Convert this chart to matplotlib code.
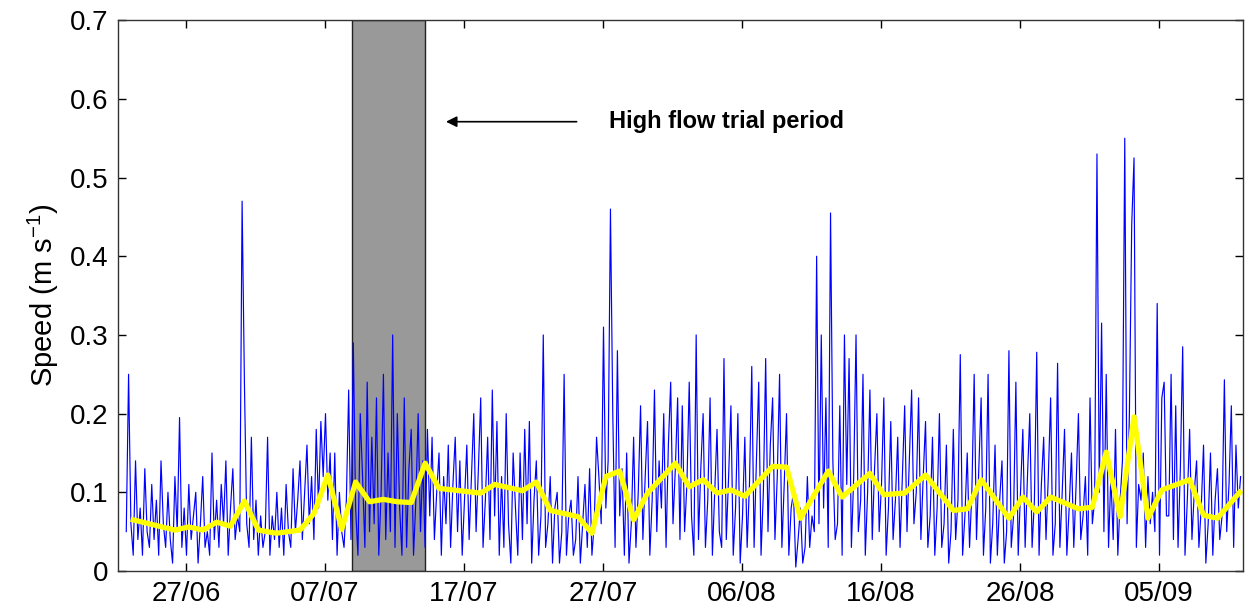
import numpy as np
import matplotlib
matplotlib.use("Agg")
import matplotlib.pyplot as plt

plt.rcParams['font.family'] = ['Liberation Sans', 'DejaVu Sans']
plt.rcParams['mathtext.default'] = 'regular'

# Day numbers are counted from 27/06 (day 0)
tick_days = [0, 10, 20, 30, 40, 50, 60, 70]
tick_labels = ['27/06', '07/07', '17/07', '27/07', '06/08', '16/08', '26/08', '05/09']

# High-frequency speed record (m/s), sampled every 4 h from day -4.3
speed_t0 = -4.3
speed_dt = 1.0 / 6.0
speed = [
    0.05, 0.25, 0.06, 0.02, 0.14, 0.04,    0.08, 0.02, 0.13, 0.05, 0.03, 0.11,
    0.04, 0.09, 0.02, 0.14, 0.06, 0.03,    0.10, 0.04, 0.01, 0.12, 0.05, 0.195,
    0.03, 0.08, 0.02, 0.11, 0.04, 0.07,    0.10, 0.01, 0.06, 0.12, 0.03, 0.05,
    0.02, 0.15, 0.04, 0.09, 0.03, 0.11,    0.06, 0.14, 0.02, 0.08, 0.13, 0.04,
    0.07, 0.05, 0.47, 0.24, 0.06, 0.03,    0.17, 0.04, 0.09, 0.02, 0.07, 0.03,
    0.05, 0.17, 0.02, 0.07, 0.04, 0.10,    0.03, 0.08, 0.02, 0.11, 0.05, 0.03,
    0.13, 0.05, 0.09, 0.14, 0.04, 0.10,    0.16, 0.06, 0.12, 0.04, 0.18, 0.08,
    0.19, 0.12, 0.20, 0.09, 0.15, 0.04,    0.15, 0.02, 0.10, 0.05, 0.03, 0.09,
    0.23, 0.04, 0.29, 0.08, 0.02, 0.20,    0.12, 0.03, 0.24, 0.05, 0.17, 0.06,
    0.22, 0.02, 0.10, 0.25, 0.04, 0.15,    0.05, 0.30, 0.03, 0.20, 0.08, 0.02,
    0.22, 0.03, 0.13, 0.18, 0.02, 0.09,    0.20, 0.05, 0.14, 0.03, 0.18, 0.07,
    0.17, 0.04, 0.10, 0.15, 0.02, 0.12,    0.06, 0.16, 0.03, 0.11, 0.17, 0.05,
    0.14, 0.02, 0.09, 0.16, 0.04, 0.12,    0.20, 0.05, 0.13, 0.22, 0.03, 0.09,
    0.17, 0.04, 0.23, 0.07, 0.19, 0.02,    0.12, 0.03, 0.20, 0.06, 0.01, 0.15,
    0.08, 0.02, 0.15, 0.04, 0.18, 0.06,    0.19, 0.01, 0.09, 0.14, 0.02, 0.07,
    0.30, 0.03, 0.06, 0.12, 0.01, 0.08,    0.10, 0.01, 0.05, 0.25, 0.02, 0.07,
    0.09, 0.02, 0.04, 0.12, 0.01, 0.06,    0.11, 0.03, 0.13, 0.02, 0.06, 0.17,
    0.12, 0.06, 0.31, 0.08, 0.14, 0.46,    0.20, 0.03, 0.28, 0.07, 0.13, 0.02,
    0.15, 0.01, 0.06, 0.17, 0.03, 0.10,    0.21, 0.04, 0.12, 0.19, 0.02, 0.09,
    0.23, 0.05, 0.14, 0.08, 0.20, 0.03,    0.16, 0.24, 0.06, 0.13, 0.22, 0.04,
    0.21, 0.05, 0.11, 0.24, 0.07, 0.02,    0.30, 0.04, 0.13, 0.20, 0.03, 0.09,
    0.22, 0.02, 0.10, 0.18, 0.05, 0.03,    0.27, 0.04, 0.12, 0.21, 0.02, 0.08,
    0.20, 0.01, 0.07, 0.17, 0.03, 0.11,    0.26, 0.03, 0.14, 0.24, 0.02, 0.10,
    0.27, 0.05, 0.16, 0.22, 0.04, 0.12,    0.25, 0.03, 0.11, 0.20, 0.02, 0.08,
    0.10, 0.005, 0.04, 0.08, 0.01, 0.03,   0.12, 0.03, 0.07, 0.05, 0.40, 0.06,
    0.30, 0.08, 0.22, 0.03, 0.455, 0.14,   0.04, 0.06, 0.21, 0.02, 0.30, 0.11,
    0.27, 0.03, 0.12, 0.30, 0.05, 0.09,    0.25, 0.02, 0.10, 0.23, 0.04, 0.13,
    0.20, 0.05, 0.11, 0.22, 0.02, 0.08,    0.19, 0.04, 0.09, 0.17, 0.03, 0.12,
    0.21, 0.05, 0.14, 0.23, 0.06, 0.10,    0.22, 0.04, 0.12, 0.19, 0.03, 0.07,
    0.17, 0.02, 0.08, 0.20, 0.03, 0.06,    0.16, 0.01, 0.05, 0.18, 0.04, 0.09,
    0.275, 0.02, 0.07, 0.15, 0.03, 0.10,   0.25, 0.04, 0.13, 0.22, 0.02, 0.08,
    0.25, 0.01, 0.06, 0.16, 0.02, 0.09,    0.14, 0.01, 0.05, 0.28, 0.03, 0.07,
    0.24, 0.02, 0.10, 0.18, 0.03, 0.12,    0.20, 0.03, 0.09, 0.278, 0.02, 0.11,
    0.17, 0.04, 0.12, 0.22, 0.02, 0.06,    0.264, 0.03, 0.10, 0.18, 0.02, 0.08,
    0.15, 0.03, 0.11, 0.20, 0.04, 0.07,    0.12, 0.02, 0.22, 0.06, 0.09, 0.53,
    0.10, 0.315, 0.05, 0.25, 0.03, 0.12,   0.04, 0.18, 0.02, 0.09, 0.14, 0.55,
    0.06, 0.20, 0.44, 0.525, 0.03, 0.11,   0.09, 0.15, 0.03, 0.12, 0.06, 0.10,
    0.05, 0.34, 0.02, 0.22, 0.24, 0.07,    0.07, 0.25, 0.04, 0.21, 0.03, 0.13,
    0.285, 0.02, 0.09, 0.18, 0.04, 0.10,   0.14, 0.03, 0.08, 0.16, 0.01, 0.06,
    0.15, 0.02, 0.09, 0.13, 0.04, 0.07,    0.243, 0.05, 0.11, 0.21, 0.03, 0.16,
    0.08, 0.12,
]

# Daily mean speed (yellow line)
mean_days = [-3.8, -0.8, 0.2, 1.2, 2.2, 3.2, 4.2, 5.2, 6.5, 8.2, 9.2, 10.2, 11.2,
             12.2, 13.2, 14.2, 15.2, 16.2, 17.2, 18.2, 21.2, 22.2, 24.2, 25.2,
             26.2, 28.2, 29.2, 30.2, 31.2, 32.2, 33.2, 35.2, 36.2, 37.2, 38.2,
             39.2, 40.2, 42.2, 43.2, 44.2, 46.2, 47.2, 49.2, 50.2, 51.7, 53.2,
             55.2, 56.2, 57.2, 59.2, 60.2, 61.2, 62.2, 64.2, 65.2, 66.2, 67.2,
             68.2, 69.2, 70.2, 72.2, 73.2, 74.2, 75.8]
mean_speed = [0.065, 0.052, 0.056, 0.052, 0.062, 0.057, 0.089, 0.052, 0.048,
              0.052, 0.073, 0.122, 0.053, 0.113, 0.088, 0.091, 0.088, 0.087,
              0.137, 0.105, 0.099, 0.110, 0.102, 0.113, 0.077, 0.069, 0.048,
              0.120, 0.127, 0.065, 0.099, 0.137, 0.107, 0.116, 0.099, 0.103,
              0.095, 0.133, 0.132, 0.067, 0.127, 0.094, 0.124, 0.097, 0.099,
              0.122, 0.077, 0.079, 0.116, 0.067, 0.094, 0.075, 0.094, 0.079,
              0.081, 0.151, 0.069, 0.196, 0.067, 0.103, 0.116, 0.071, 0.067,
              0.100]

trial_start, trial_end = 11.94, 17.19
annotation = 'High flow trial period'

speed_days = speed_t0 + speed_dt * np.arange(len(speed))

fig = plt.figure(figsize=(12.48, 6.12), dpi=100)
ax = fig.add_axes([0.0946, 0.067, 0.9014, 0.900])

ax.axvspan(trial_start, trial_end, facecolor='#999999', edgecolor='#222222',
           linewidth=1.0, zorder=1)
ax.plot(speed_days, speed, color='#0000ff', linewidth=0.85, zorder=2)
ax.plot(mean_days, mean_speed, color='#ffff00', linewidth=3.8, zorder=3,
        solid_joinstyle='round')

ax.annotate('', xy=(18.5, 0.571), xytext=(28.3, 0.571),
            arrowprops=dict(arrowstyle='-|>', color='black', lw=1.2,
                            mutation_scale=16))
ax.text(30.4, 0.571, annotation, fontsize=17, fontweight='bold',
        ha='left', va='center')

ax.set_xlim(-4.89, 76.04)
ax.set_ylim(0, 0.7)
ax.set_xticks(tick_days)
ax.set_xticklabels(tick_labels)
ax.set_yticks([0, 0.1, 0.2, 0.3, 0.4, 0.5, 0.6, 0.7])
ax.set_yticklabels(['0', '0.1', '0.2', '0.3', '0.4', '0.5', '0.6', '0.7'])
ax.tick_params(direction='in', length=6, width=1, top=True, right=True,
               labelsize=20, pad=7)
ax.set_ylabel('Speed (m s$^{-1}$)', fontsize=21, labelpad=6)
for s in ax.spines.values():
    s.set_linewidth(1.0)
    s.set_color('#333333')

fig.savefig('out.png', dpi=100)
